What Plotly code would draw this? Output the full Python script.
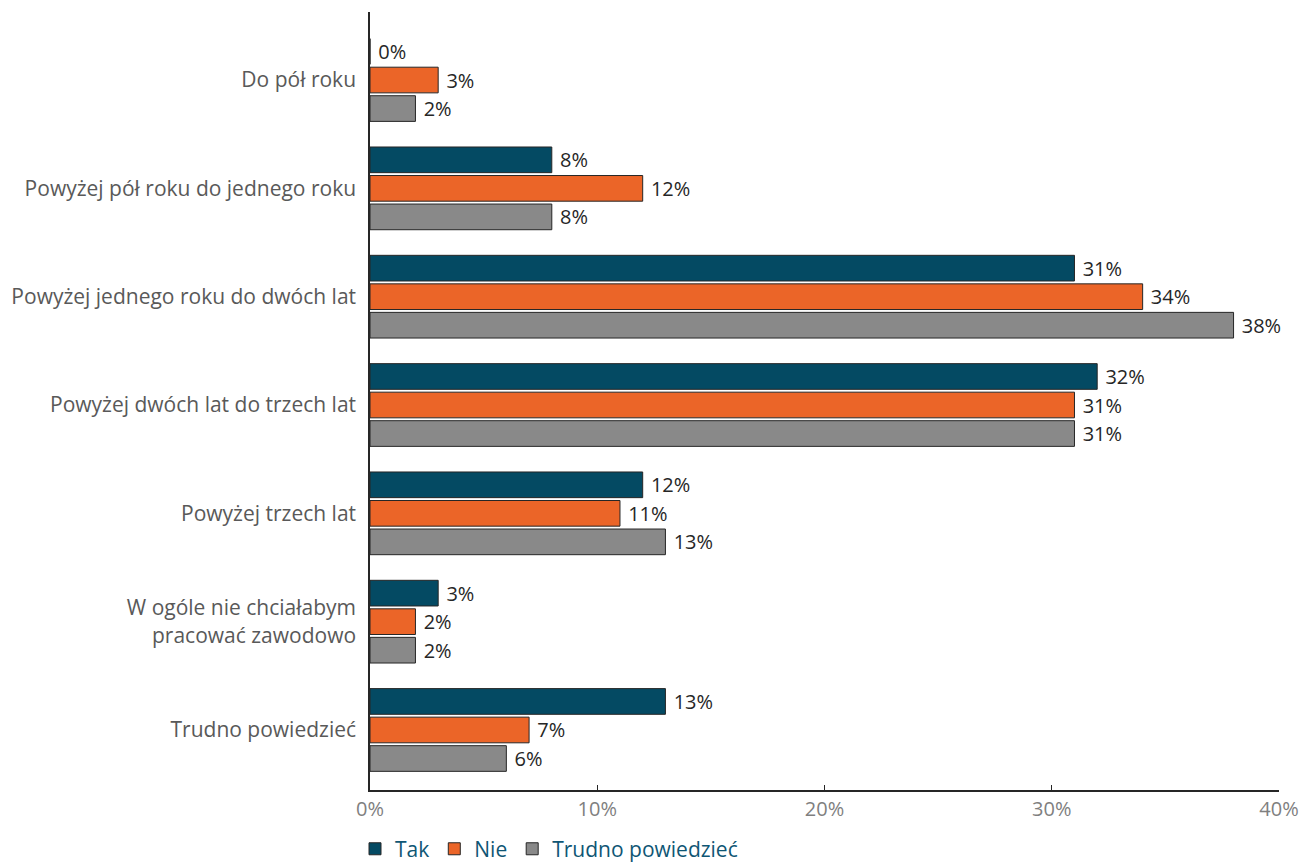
import plotly.graph_objects as go

categories = [
    "Do pół roku",
    "Powyżej pół roku do jednego roku",
    "Powyżej jednego roku do dwóch lat",
    "Powyżej dwóch lat do trzech lat",
    "Powyżej trzech lat",
    "W ogóle nie chciałabym<br>pracować zawodowo",
    "Trudno powiedzieć",
]
series_names = ["Tak", "Nie", "Trudno powiedzieć"]
tak = [0, 8, 31, 32, 12, 3, 13]
nie = [3, 12, 34, 31, 11, 2, 7]
trudno = [2, 8, 38, 31, 13, 2, 6]
colors = ["#044a63", "#eb6528", "#898989"]
x_ticks = [0, 10, 20, 30, 40]
x_ticklabels = ["0%", "10%", "20%", "30%", "40%"]

FONT = "Open Sans"

fig = go.Figure()
for name, vals, col in zip(series_names, [tak, nie, trudno], colors):
    fig.add_trace(go.Bar(
        y=categories, x=vals, name=name, orientation="h",
        marker=dict(color=col, line=dict(color="#262626", width=1)),
        text=[f"\u00a0{v}%" for v in vals], textposition="outside",
        constraintext="none",
        textfont=dict(family=FONT, size=20, color="#262626"),
        cliponaxis=False,
    ))

# the page body adds an 8px offset, so the figure is 8px smaller than the window
fig.update_layout(
    barmode="group", bargap=0.21, bargroupgap=0.1,
    width=1301, height=858,
    margin=dict(l=362, r=30, t=4, b=76, autoexpand=False),
    plot_bgcolor="white", paper_bgcolor="white",
    font=dict(family=FONT),
    legend=dict(orientation="h", x=-0.0165, xanchor="left", y=-0.076, yanchor="middle",
                font=dict(family=FONT, size=21, color="#0f5674"),
                traceorder="normal", itemwidth=30),
    xaxis=dict(range=[0, 40], tickvals=x_ticks, ticktext=x_ticklabels,
               showgrid=False, zeroline=False, showline=True, linecolor="#262626",
               linewidth=1.5, ticks="inside", ticklen=5, tickcolor="#262626",
               automargin=False,
               tickfont=dict(family=FONT, size=20, color="#7f7f7f")),
    yaxis=dict(range=[6.554, -0.628], showgrid=False, zeroline=False,
               showline=True, linecolor="#262626", linewidth=1.5, ticks="",
               ticklabelstandoff=8, automargin=False,
               tickfont=dict(family=FONT, size=21, color="#595959")),
    showlegend=True,
)
fig.write_html("out.html")
